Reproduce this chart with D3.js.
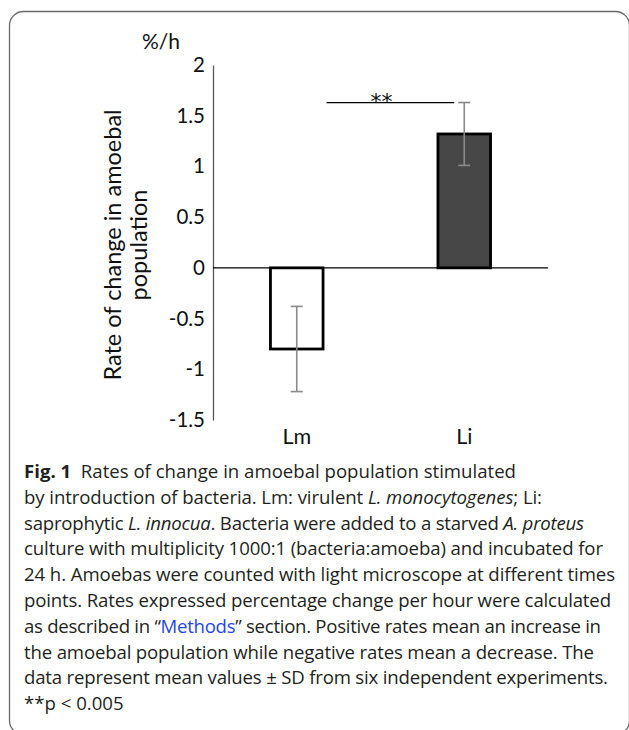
<!DOCTYPE html>
<html>
<head>
<meta charset="utf-8">
<script src="https://cdn.jsdelivr.net/npm/d3@7"></script>
<style>
  html, body { margin: 0; padding: 0; background: #fff; }
  svg { display: block; }
</style>
</head>
<body>
<svg id="chart" width="629" height="730"></svg>
<script>
// ---- data ----
const categories = ["Lm", "Li"];
const means = [-0.80, 1.32];
const sds = [0.42, 0.31];
const barFills = ["#ffffff", "#474747"];
const yTicks = [-1.5, -1, -0.5, 0, 0.5, 1, 1.5, 2];
const yDomain = [-1.5, 2];
const unitLabel = "%/h";
const yLabelLines = ["Rate of change in amoebal", "population"];
const sigLabel = "**";
const sigLevel = 1.63;

const captionLines = [
  [{t: "Fig. 1", b: true}, {t: "\u00a0\u00a0Rates of change in amoebal population stimulated"}],
  [{t: "by introduction of bacteria. Lm: virulent "}, {t: "L. monocytogenes", i: true}, {t: "; Li:"}],
  [{t: "saprophytic "}, {t: "L. innocua", i: true}, {t: ". Bacteria were added to a starved "}, {t: "A. proteus", i: true}],
  [{t: "culture with multiplicity 1000:1 (bacteria:amoeba) and incubated for"}],
  [{t: "24 h. Amoebas were counted with light microscope at different times"}],
  [{t: "points. Rates expressed percentage change per hour were calculated"}],
  [{t: "as described in \u201c"}, {t: "Methods", link: true}, {t: "\u201d section. Positive rates mean an increase in"}],
  [{t: "the amoebal population while negative rates mean a decrease. The"}],
  [{t: "data represent mean values \u00b1 SD from six independent experiments."}],
  [{t: "**p < 0.005"}]
];
// right edge of each caption line in the reference layout (px)
const captionLineEnds = [516, 542, 584, 603, 615, 611, 601, 594, 608, null];

// ---- layout ----
const svg = d3.select("#chart");
const chartFont = "Lato, 'Open Sans', sans-serif";
const capFont = "'Open Sans', 'Noto Sans', sans-serif";

// frame
svg.append("rect")
  .attr("x", 9.5).attr("y", 11.5)
  .attr("width", 620).attr("height", 723)
  .attr("rx", 14).attr("ry", 14)
  .attr("fill", "none").attr("stroke", "#6a6a6a").attr("stroke-width", 1.3);

const x = d3.scaleBand().domain(categories).range([213, 548])
  .paddingInner(0.686).paddingOuter(0.343);
const y = d3.scaleLinear().domain(yDomain).range([420, 65]);

// y axis
const yAxis = svg.append("g")
  .attr("transform", `translate(${x.range()[0]},0)`)
  .call(d3.axisLeft(y).tickValues(yTicks).tickSize(0).tickPadding(8)
        .tickFormat(d => String(d)));
yAxis.select(".domain").attr("stroke", "#595959").attr("stroke-width", 1.3);
yAxis.selectAll("text")
  .attr("font-family", chartFont).attr("font-size", 20.5).attr("fill", "#111");

// unit label
svg.append("text")
  .attr("x", 161).attr("y", 49)
  .attr("text-anchor", "middle")
  .attr("font-family", chartFont).attr("font-size", 21).attr("fill", "#111")
  .text(unitLabel);

// y label
const yl = svg.append("text")
  .attr("transform", "translate(126,245) rotate(-90)")
  .attr("text-anchor", "middle")
  .attr("font-family", chartFont).attr("font-size", 23.5).attr("fill", "#111");
yLabelLines.forEach((l, i) => {
  yl.append("tspan").attr("x", 0).attr("y", (i - 0.5) * 26 + 8).text(l);
});

// bars
svg.selectAll("rect.bar").data(categories).enter().append("rect")
  .attr("class", "bar")
  .attr("x", d => x(d))
  .attr("width", x.bandwidth())
  .attr("y", (d, i) => y(Math.max(0, means[i])))
  .attr("height", (d, i) => Math.abs(y(means[i]) - y(0)))
  .attr("fill", (d, i) => barFills[i])
  .attr("stroke", "#000").attr("stroke-width", 2.8);

// zero line
svg.append("line")
  .attr("x1", x.range()[0]).attr("x2", x.range()[1])
  .attr("y1", y(0)).attr("y2", y(0))
  .attr("stroke", "#000").attr("stroke-width", 1.3);

// error bars
const capW = 6;
const eb = svg.selectAll("g.err").data(categories).enter().append("g")
  .attr("class", "err")
  .attr("stroke", "#8a8a8a").attr("stroke-width", 1.6);
eb.append("line")
  .attr("x1", d => x(d) + x.bandwidth() / 2).attr("x2", d => x(d) + x.bandwidth() / 2)
  .attr("y1", (d, i) => y(means[i] + sds[i])).attr("y2", (d, i) => y(means[i] - sds[i]));
eb.append("line")
  .attr("x1", d => x(d) + x.bandwidth() / 2 - capW).attr("x2", d => x(d) + x.bandwidth() / 2 + capW)
  .attr("y1", (d, i) => y(means[i] + sds[i])).attr("y2", (d, i) => y(means[i] + sds[i]));
eb.append("line")
  .attr("x1", d => x(d) + x.bandwidth() / 2 - capW).attr("x2", d => x(d) + x.bandwidth() / 2 + capW)
  .attr("y1", (d, i) => y(means[i] - sds[i])).attr("y2", (d, i) => y(means[i] - sds[i]));

// significance
const sx1 = x(categories[0]) + x.bandwidth() + 3.5;
const sx2 = x(categories[1]) + x.bandwidth() / 2 - 10;
svg.append("line")
  .attr("x1", sx1).attr("x2", sx2)
  .attr("y1", y(sigLevel)).attr("y2", y(sigLevel))
  .attr("stroke", "#000").attr("stroke-width", 1.3);
svg.append("text")
  .attr("x", sx1 + 0.43 * (sx2 - sx1)).attr("y", y(sigLevel) + 6)
  .attr("text-anchor", "middle")
  .attr("font-family", "'DejaVu Sans', sans-serif").attr("font-size", 22).attr("fill", "#111")
  .text(sigLabel);

// category labels
svg.selectAll("text.cat").data(categories).enter().append("text")
  .attr("class", "cat")
  .attr("x", d => x(d) + x.bandwidth() / 2)
  .attr("y", 444)
  .attr("text-anchor", "middle")
  .attr("font-family", chartFont).attr("font-size", 21.5).attr("fill", "#111")
  .text(d => d);

// caption
const capX = 24;
const cap = svg.append("g");
captionLines.forEach((segs, li) => {
  const t = cap.append("text")
    .attr("x", capX).attr("y", 478 + li * 25.8)
    .attr("font-family", capFont).attr("font-size", 18.6).attr("fill", "#231f20")
    .style("white-space", "pre");
  segs.forEach(s => {
    t.append("tspan")
      .attr("font-weight", s.b ? 700 : 400)
      .attr("font-style", s.i ? "italic" : "normal")
      .attr("fill", s.link ? "#1f47e6" : "#231f20")
      .text(s.t);
  });
  const target = captionLineEnds[li];
  if (target) {
    const node = t.node();
    const natural = node.getComputedTextLength();
    const n = node.textContent.length;
    const ls = (target - capX - natural) / Math.max(1, n - 1);
    t.attr("letter-spacing", ls.toFixed(3));
  }
});
</script>
</body>
</html>
